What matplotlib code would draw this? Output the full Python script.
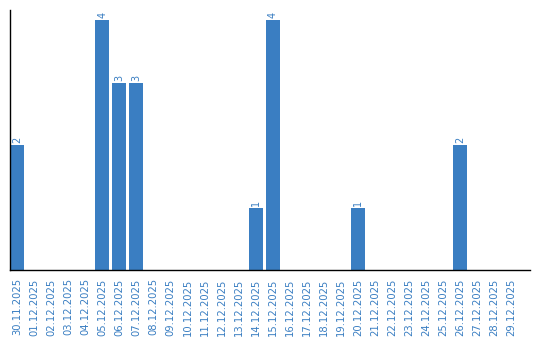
import matplotlib.pyplot as plt

# data
dates = ['30.11.2025', '01.12.2025', '02.12.2025', '03.12.2025', '04.12.2025',
         '05.12.2025', '06.12.2025', '07.12.2025', '08.12.2025', '09.12.2025',
         '10.12.2025', '11.12.2025', '12.12.2025', '13.12.2025', '14.12.2025',
         '15.12.2025', '16.12.2025', '17.12.2025', '18.12.2025', '19.12.2025',
         '20.12.2025', '21.12.2025', '22.12.2025', '23.12.2025', '24.12.2025',
         '25.12.2025', '26.12.2025', '27.12.2025', '28.12.2025', '29.12.2025']
counts = [2, 0, 0, 0, 0, 4, 3, 3, 0, 0, 0, 0, 0, 0, 1,
          4, 0, 0, 0, 0, 1, 0, 0, 0, 0, 0, 2, 0, 0, 0]

blue = '#3a7ec2'

fig = plt.figure(figsize=(5.4, 3.4), dpi=100)
ax = fig.add_axes([10 / 540, 70 / 340, 520 / 540, 260 / 340])

x = list(range(len(dates)))
ax.bar(x, counts, width=0.82, color=blue)

# value labels above bars
for xi, c in zip(x, counts):
    if c > 0:
        ax.text(xi, c + 0.03, str(c), rotation=90, ha='center', va='bottom',
                color=blue, fontsize=7)

ax.set_xlim(-0.41, 30.1)
ax.set_ylim(0, 4.16)
ax.set_xticks(x)
ax.set_xticklabels(dates, rotation=90, color=blue, fontsize=7.2)
ax.tick_params(axis='x', length=0, pad=6)
ax.set_yticks([])

ax.spines['top'].set_visible(False)
ax.spines['right'].set_visible(False)
ax.spines['left'].set_linewidth(1.0)
ax.spines['bottom'].set_linewidth(1.0)

fig.savefig('out.png', dpi=100)
